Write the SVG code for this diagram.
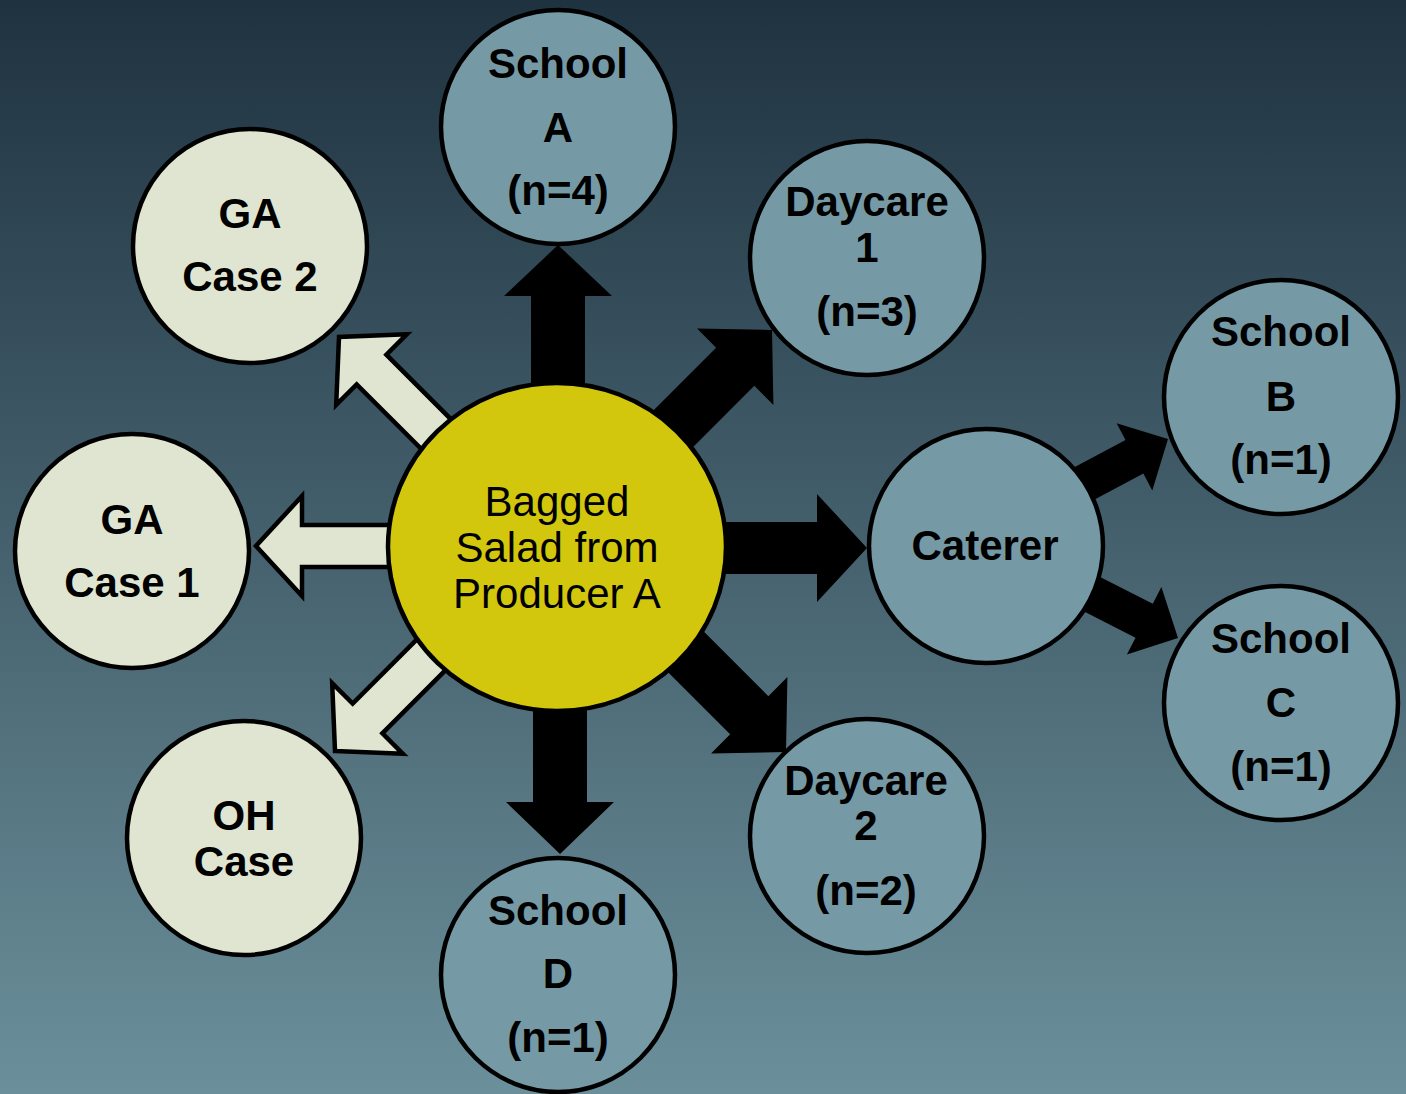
<svg xmlns="http://www.w3.org/2000/svg" width="1406" height="1094" viewBox="0 0 1406 1094">
  <defs>
    <linearGradient id="bg" x1="0" y1="0" x2="0" y2="1">
      <stop offset="0" stop-color="#1f3240"/>
      <stop offset="1" stop-color="#6b909b"/>
    </linearGradient>
  </defs>
  <style>
    .node { stroke: #000; stroke-width: 4.5; }
    .blue { fill: #759aa6; }
    .pale { fill: #dfe5d0; }
    .hub { fill: #d2c70d; }
    .lbl { font-family: "Liberation Sans", Arial, sans-serif; font-weight: bold; font-size: 42px; text-anchor: middle; fill: #000; }
    .hubtxt { font-family: "Liberation Sans", Arial, sans-serif; font-size: 42px; text-anchor: middle; fill: #000; }
    .solid { fill: #000; }
    .hollow { fill: #dfe5d0; stroke: #000; stroke-width: 4.5; stroke-linejoin: miter; }
  </style>

  <rect x="0" y="0" width="1406" height="1094" fill="url(#bg)"/>

  <!-- block arrows, drawn beneath the circles -->
  <g id="connectors">
    <!-- to School A -->
    <path class="solid" transform="translate(558,245) rotate(-90)" d="M0,0 L-51,-54 L-51,-27 L-310,-27 L-310,27 L-51,27 L-51,54 Z"/>
    <!-- to Daycare 1 -->
    <path class="solid" transform="translate(772,330) rotate(-45)" d="M0,0 L-52,-54 L-52,-27 L-305,-27 L-305,27 L-52,27 L-52,54 Z"/>
    <!-- to Caterer -->
    <path class="solid" transform="translate(867,548)" d="M0,0 L-50,-54 L-50,-26 L-310,-26 L-310,26 L-50,26 L-50,54 Z"/>
    <!-- to Daycare 2 -->
    <path class="solid" transform="translate(786,752) rotate(45)" d="M0,0 L-52,-54 L-52,-27 L-305,-27 L-305,27 L-52,27 L-52,54 Z"/>
    <!-- to School D -->
    <path class="solid" transform="translate(560,854) rotate(90)" d="M0,0 L-52,-54 L-52,-27 L-307,-27 L-307,27 L-52,27 L-52,54 Z"/>
    <!-- to GA Case 2 -->
    <path class="hollow" transform="translate(339,337) rotate(-135)" d="M0,0 L-46,-50 L-46,-21 L-302,-21 L-302,21 L-46,21 L-46,50 Z"/>
    <!-- to GA Case 1 -->
    <path class="hollow" transform="translate(256,546) rotate(180)" d="M0,0 L-46,-50 L-46,-21 L-301,-21 L-301,21 L-46,21 L-46,50 Z"/>
    <!-- to OH Case -->
    <path class="hollow" transform="translate(335,751) rotate(135)" d="M0,0 L-46,-50 L-46,-21 L-302,-21 L-302,21 L-46,21 L-46,50 Z"/>
    <!-- Caterer to School B -->
    <path class="solid" transform="translate(1168,439) rotate(-28)" d="M0,0 L-38,-38 L-38,-19 L-200,-19 L-200,19 L-38,19 L-38,38 Z"/>
    <!-- Caterer to School C -->
    <path class="solid" transform="translate(1178,638) rotate(27)" d="M0,0 L-38,-38 L-38,-19 L-200,-19 L-200,19 L-38,19 L-38,38 Z"/>
  </g>

  <g id="hub">
    <ellipse class="node hub" cx="557" cy="547" rx="169" ry="164"/>
    <text class="hubtxt" x="557" y="516">Bagged</text>
    <text class="hubtxt" x="557" y="562">Salad from</text>
    <text class="hubtxt" x="557" y="608">Producer A</text>
  </g>

  <g id="school-a">
    <circle class="node blue" cx="558" cy="127" r="117"/>
    <text class="lbl" x="558" y="78">School</text>
    <text class="lbl" x="558" y="142">A</text>
    <text class="lbl" x="558" y="205">(n=4)</text>
  </g>

  <g id="daycare-1">
    <circle class="node blue" cx="867" cy="258" r="117"/>
    <text class="lbl" x="867" y="216">Daycare</text>
    <text class="lbl" x="867" y="262">1</text>
    <text class="lbl" x="867" y="326">(n=3)</text>
  </g>

  <g id="ga-case-2">
    <circle class="node pale" cx="250" cy="246" r="117"/>
    <text class="lbl" x="250" y="228">GA</text>
    <text class="lbl" x="250" y="291">Case 2</text>
  </g>

  <g id="ga-case-1">
    <circle class="node pale" cx="132" cy="551" r="117"/>
    <text class="lbl" x="132" y="534">GA</text>
    <text class="lbl" x="132" y="597">Case 1</text>
  </g>

  <g id="oh-case">
    <circle class="node pale" cx="244" cy="838" r="117"/>
    <text class="lbl" x="244" y="830">OH</text>
    <text class="lbl" x="244" y="876">Case</text>
  </g>

  <g id="school-d">
    <circle class="node blue" cx="558" cy="975" r="117"/>
    <text class="lbl" x="558" y="925">School</text>
    <text class="lbl" x="558" y="988">D</text>
    <text class="lbl" x="558" y="1052">(n=1)</text>
  </g>

  <g id="daycare-2">
    <circle class="node blue" cx="867" cy="836" r="117"/>
    <text class="lbl" x="866" y="795">Daycare</text>
    <text class="lbl" x="866" y="840">2</text>
    <text class="lbl" x="866" y="905">(n=2)</text>
  </g>

  <g id="caterer">
    <circle class="node blue" cx="986" cy="546" r="117"/>
    <text class="lbl" x="985" y="560">Caterer</text>
  </g>

  <g id="school-b">
    <circle class="node blue" cx="1281" cy="397" r="117"/>
    <text class="lbl" x="1281" y="346">School</text>
    <text class="lbl" x="1281" y="411">B</text>
    <text class="lbl" x="1281" y="474">(n=1)</text>
  </g>

  <g id="school-c">
    <circle class="node blue" cx="1281" cy="703" r="117"/>
    <text class="lbl" x="1281" y="653">School</text>
    <text class="lbl" x="1281" y="717">C</text>
    <text class="lbl" x="1281" y="781">(n=1)</text>
  </g>
</svg>
